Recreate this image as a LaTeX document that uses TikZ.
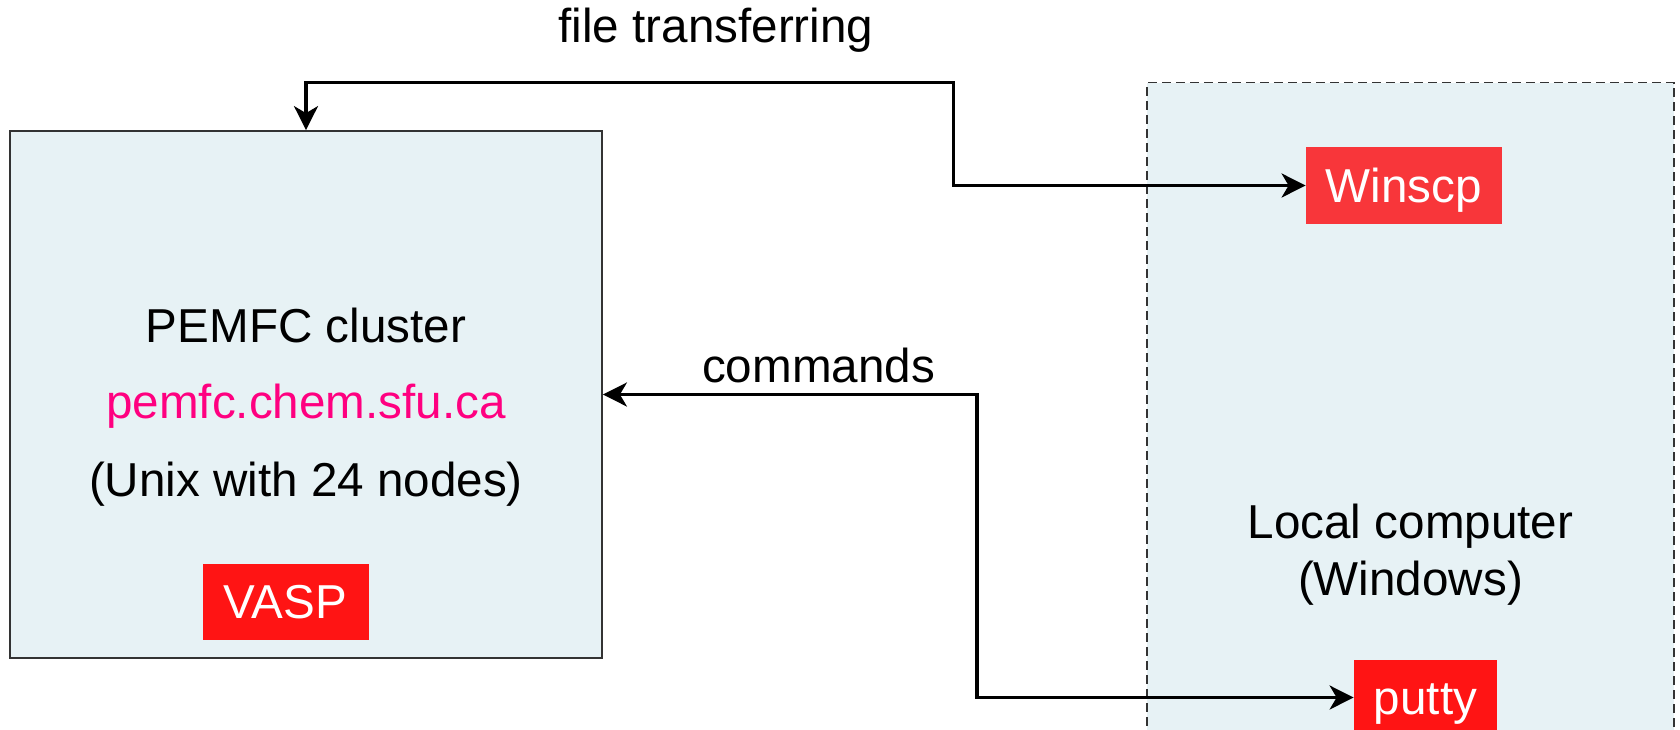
\documentclass[tikz,border=0pt]{standalone}
\usepackage{fontspec}
\setmainfont{Liberation Sans}
\usetikzlibrary{arrows.meta}
\definecolor{boxfill}{RGB}{231,242,245}
\definecolor{winred}{RGB}{248,54,58}
\definecolor{vred}{RGB}{255,20,20}
\definecolor{hostpink}{RGB}{255,0,128}
\begin{document}
\begin{tikzpicture}[x=0.5pt,y=-0.5pt,
  font=\fontsize{23.8}{28}\selectfont,
  panel/.style={draw=black!80, line width=0.9pt, fill=boxfill, inner sep=0pt},
  tag/.style={fill=#1, text=white, inner sep=0pt, text height=17pt, text depth=0pt},
  conn/.style={line width=1.6pt,
    {Stealth[length=12pt,width=12pt,inset=3.5pt]}-{Stealth[length=12pt,width=12pt,inset=3.5pt]}},
  txt/.style={anchor=base, inner sep=0pt}]
\useasboundingbox (0,0) rectangle (1680,729);
\clip (0,0) rectangle (1680,729);
% panels
\node[panel, minimum width=296pt, minimum height=263.5pt] (cluster) at (306,394.5) {};
\node[panel, dash pattern=on 4.5pt off 2.5pt, line width=0.8pt,
      minimum width=263.5pt, minimum height=338.75pt] (local) at (1410.5,421.25) {};
% texts
\node[txt] (t1) at (306,342) {PEMFC cluster};
\node[txt, text=hostpink] (t2) at (306,418) {pemfc.chem.sfu.ca};
\node[txt] (t3) at (306,496) {(Unix with 24 nodes)};
\node[txt] (l1) at (1410.5,538) {Local computer};
\node[txt] (l2) at (1410.5,595) {(Windows)};
\node[txt] (ftl) at (716,42) {file transferring};
\node[txt] (cml) at (818.5,382) {commands};
% tags
\node[tag=winred, minimum width=98pt, minimum height=38.5pt] (winscp) at (1404,185.5) {Winscp};
\node[tag=vred, minimum width=83pt, minimum height=38pt] (vasp) at (285.5,601.6) {VASP};
\node[tag=vred, minimum width=71.5pt, minimum height=37.5pt] (putty) at (1425.5,697.5) {putty};
% connectors
\coordinate (ft) at (953.6,82.5);
\coordinate (cm) at (977,697.5);
\draw[conn] (cluster.north) |- (ft) |- (winscp.west);
\draw[conn] (cluster.east) -| (cm) -- (putty.west);
\end{tikzpicture}
\end{document}
